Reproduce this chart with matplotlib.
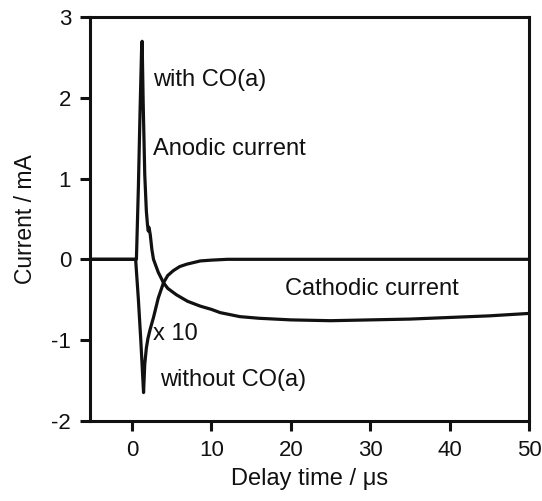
import numpy as np
import matplotlib
matplotlib.use('Agg')
from matplotlib import pyplot as plt

plt.rcParams['font.family'] = ['Liberation Sans', 'DejaVu Sans']
plt.rcParams['axes.unicode_minus'] = False

# with CO(a): anodic spike, then cathodic current
t_with = [-5.3, 0.0, 0.55, 0.8, 1.0, 1.2, 1.27, 1.4, 1.6, 1.8, 1.95, 2.05, 2.1, 2.2, 2.3,
          2.5, 2.7, 3.0, 3.3, 3.96, 4.5, 5.6, 7.0, 8.6, 10, 11.1, 13.6, 16, 20, 25,
          30, 35, 40, 45, 50]
i_with = [0, 0, 0, 0.9, 1.8, 2.6, 2.7, 1.95, 1.05, 0.6, 0.42, 0.35, 0.4, 0.36, 0.3,
          0.12, 0.0, -0.08, -0.16, -0.29, -0.36, -0.44, -0.52, -0.58, -0.62, -0.66, -0.71, -0.73, -0.75, -0.76,
          -0.75, -0.74, -0.72, -0.70, -0.67]

# without CO(a), x 10
t_wo = [-5.3, 0.0, 0.45, 0.8, 1.1, 1.45, 1.6, 1.8, 2.0, 2.27, 2.7, 3.3, 3.96, 4.5, 5.2,
        6.0, 6.9, 8.6, 10, 12, 15, 20, 30, 40, 50]
i_wo = [0, 0, 0, -0.5, -1.0, -1.65, -1.3, -1.1, -0.98, -0.87, -0.72, -0.48, -0.29, -0.2, -0.14,
        -0.09, -0.06, -0.02, -0.01, 0, 0, 0, 0, 0, 0]

fig = plt.figure(figsize=(5.42, 5.01), dpi=100)
ax = fig.add_axes([0.166, 0.160, 0.810, 0.806])

ink = '#111111'
ax.plot(t_wo, i_wo, color=ink, lw=2.3)
ax.plot(t_with, i_with, color=ink, lw=2.3)

ax.set_xlim(-5.3, 50)
ax.set_ylim(-2, 3)
ax.set_xticks(range(0, 51, 10))
ax.set_yticks(range(-2, 4))
for s in ax.spines.values():
    s.set_linewidth(2.2)
    s.set_color(ink)
ax.tick_params(direction='out', length=7.5, width=2.2, color=ink,
               labelsize=16, pad=6, labelcolor=ink)

ax.set_xlabel('Delay time / \u03bcs', fontsize=17, color=ink, labelpad=5)
ax.set_ylabel('Current / mA', fontsize=16.5, color=ink, labelpad=10)

fs = 17
ax.text(2.65, 2.22, 'with CO(a)', fontsize=fs, va='center', ha='left', color=ink)
ax.text(2.65, 1.36, 'Anodic current', fontsize=fs, va='center', ha='left', color=ink)
ax.text(19.3, -0.37, 'Cathodic current', fontsize=fs, va='center', ha='left', color=ink)
ax.text(2.7, -0.93, 'x 10', fontsize=fs, va='center', ha='left', color=ink)
ax.text(3.5, -1.49, 'without CO(a)', fontsize=fs, va='center', ha='left', color=ink)

plt.savefig('out.png', dpi=100)
